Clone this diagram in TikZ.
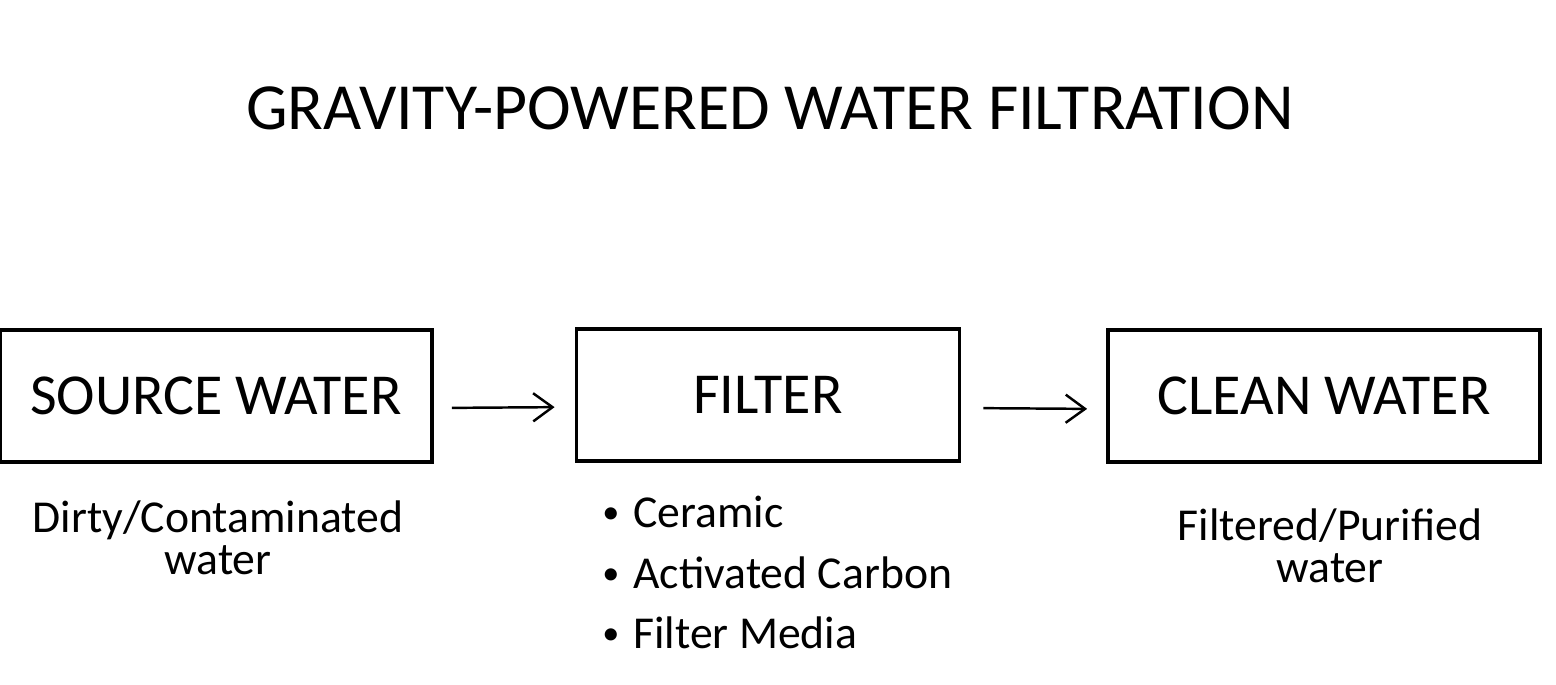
\documentclass[tikz,border=0pt]{standalone}
\usepackage{fontspec}
\setmainfont{Carlito}
\usetikzlibrary{arrows.meta}

\newcommand{\dotmark}{\raisebox{0.08em}{\scalebox{0.75}{\textbullet}}\hspace{8pt}}

\tikzset{
  heading/.style={font=\fontsize{37.5}{44}\selectfont},
  stage/.style={draw, line width=2.2pt, inner sep=0pt, minimum height=2.64cm,
    font=\fontsize{33}{38}\selectfont},
  note/.style={align=center, inner sep=0pt, font=\fontsize{26}{24}\selectfont},
  item/.style={anchor=base west, inner sep=0pt, font=\fontsize{26}{30}\selectfont},
  flow/.style={-{Straight Barb[length=11pt,width=16pt]}, line width=1.4pt}
}

\begin{document}
\begin{tikzpicture}[x=0.02cm,y=-0.02cm]
\useasboundingbox (0,0) rectangle (1556,684);

% title
\node[heading] (title) at (770,108) {GRAVITY-POWERED WATER FILTRATION};

% the three stages
\node[stage, minimum width=8.64cm] (src) at (216,396) {SOURCE WATER};
\node[stage, minimum width=7.66cm] (flt) at (768,395) {FILTER};
\node[stage, minimum width=8.64cm] (cln) at (1324,396) {CLEAN WATER};

\draw[flow, shorten <=0.36cm, shorten >=0.4cm] ([yshift=-0.24cm]src.east) -- ([yshift=-0.24cm]flt.west);
\draw[flow, shorten <=0.44cm, shorten >=0.38cm] ([yshift=-0.26cm]flt.east) -- ([yshift=-0.26cm]cln.west);

% notes under the stages
\node[note] (srcnote) at (218,538) {Dirty/Contaminated\\water};
\node[note] (clnnote) at (1330,546) {Filtered/Purified\\water};

\node[item] (cer) at (602,527) {\dotmark Ceramic};
\node[item] (act) at (602,588) {\dotmark Activated Carbon};
\node[item] (med) at (602,648) {\dotmark Filter Media};

\end{tikzpicture}
\end{document}
